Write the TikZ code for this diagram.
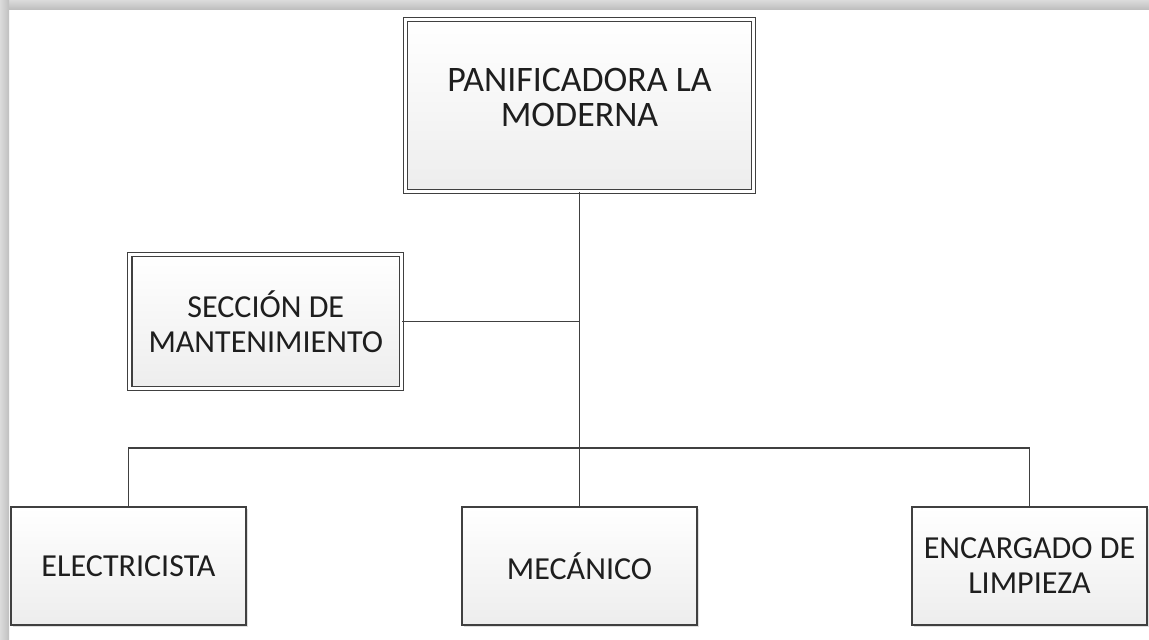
\documentclass[tikz,border=0pt]{standalone}
\usepackage{fontspec}
\setmainfont{Carlito}
\usepackage{tikz}
\usetikzlibrary{positioning,shadows}

\definecolor{lineg}{HTML}{404040}
\definecolor{txtg}{HTML}{1E1E1E}

\begin{document}
\begin{tikzpicture}[
    x = 0.025cm,
    y = -0.025cm,
    box/.style={draw=lineg, line width=0.9pt, top color=white, bottom color=gray!14,
        text=txtg, align=center, inner sep=0pt,
        font=\fontsize{22.8}{24.8}\selectfont,
        drop shadow={shadow xshift=1.5pt, shadow yshift=-1.5pt, opacity=0.25, fill=gray}},
    dbox/.style={box, double=white, double distance=2.2pt},
    unitbox/.style={box, minimum width=5.875cm, minimum height=2.95cm},
    link/.style={draw=lineg, line width=0.9pt}
    ]
    \useasboundingbox (0,0) rectangle (1149,639);
    \fill[white] (0,0) rectangle (1149,639);
    % page shadow
    \shade[top color=gray!28, bottom color=gray!50] (0,0) rectangle (1149,9);
    \shade[left color=gray!28, right color=gray!50] (0,0) rectangle (9,639);

    \node[dbox, minimum width=8.7cm, minimum height=4.3cm, text depth=12pt,
        font=\fontsize{25.5}{24.9}\selectfont] (pan) at (579.5,105.5)
        {PANIFICADORA LA\\MODERNA};
    \node[dbox, minimum width=6.79cm, minimum height=3.35cm] (secc) at (265.75,321.5)
        {SECCIÓN DE\\MANTENIMIENTO};
    \node[unitbox] (elec) at (128.5,566) {ELECTRICISTA};
    \node[unitbox] (mec) at (579.5,566) {MECÁNICO};
    \node[unitbox] (limp) at (1029.5,566) {ENCARGADO DE\\LIMPIEZA};

    \coordinate (bus) at (579.5,448);
    \path[link] (pan.south) -- (mec.north);
    \path[link] (secc.east) -- (secc.east -| mec.north);
    \path[link] (elec.north) |- (bus) -| (limp.north);
\end{tikzpicture}
\end{document}
